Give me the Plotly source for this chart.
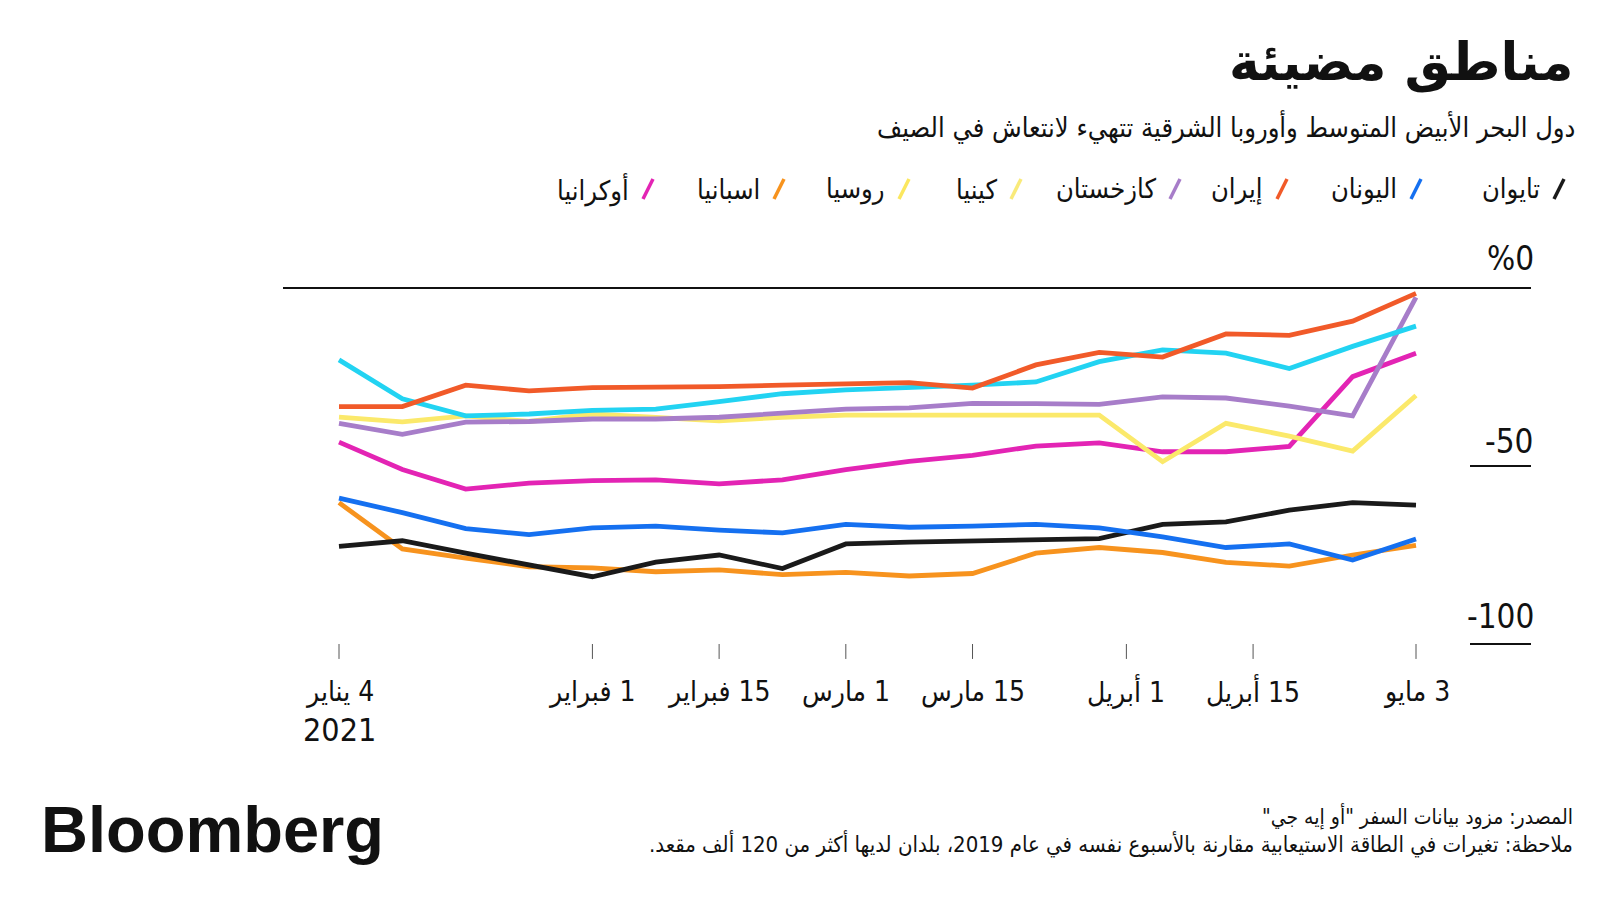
import plotly.graph_objects as go
import pandas as pd

# ---------------- data ----------------
dates = ["2021-01-04", "2021-01-11", "2021-01-18", "2021-01-25", "2021-02-01", "2021-02-08",
         "2021-02-15", "2021-02-22", "2021-03-01", "2021-03-08", "2021-03-15", "2021-03-22",
         "2021-03-29", "2021-04-05", "2021-04-12", "2021-04-19", "2021-04-26", "2021-05-03"]

taiwan = [-72.6, -71.0, -74.5, -77.8, -81.1, -77.0, -75.0, -78.8, -71.9, -71.4, -71.0, -70.7,
          -70.4, -66.4, -65.7, -62.4, -60.3, -61.0]
greece = [-59.0, -63.1, -67.6, -69.3, -67.4, -66.9, -68.0, -68.8, -66.4, -67.2, -66.9, -66.4,
          -67.4, -69.9, -72.9, -71.9, -76.4, -70.5]
iran = [-33.3, -33.3, -27.3, -28.9, -28.0, -28.0, -27.7, -27.3, -27.0, -26.6, -28.1, -21.6,
        -18.1, -19.4, -12.9, -13.3, -9.3, -1.5]
kazakhstan = [-38.0, -41.1, -37.7, -37.5, -36.8, -36.8, -36.3, -35.1, -34.0, -33.7, -32.4, -32.5,
              -32.7, -30.6, -30.9, -33.2, -35.9, -2.6]
kenya = [-20.2, -31.1, -35.9, -35.4, -34.4, -34.0, -31.9, -29.7, -28.6, -28.0, -27.3, -26.4,
         -20.7, -17.4, -18.3, -22.6, -16.4, -10.7]
russia = [-36.3, -37.6, -35.9, -37.5, -35.4, -36.3, -37.3, -36.3, -35.7, -35.7, -35.6, -35.7,
          -35.7, -48.8, -38.0, -41.6, -45.8, -30.2]
spain = [-60.3, -73.3, -75.9, -78.3, -78.6, -79.7, -79.2, -80.5, -79.9, -80.9, -80.2, -74.5,
         -72.9, -74.3, -77.1, -78.1, -75.0, -72.3]
ukraine = [-43.3, -51.0, -56.5, -54.8, -54.1, -53.9, -55.0, -53.9, -51.0, -48.7, -47.0, -44.4,
           -43.5, -46.0, -46.0, -44.5, -24.9, -18.3]

series_names = ["تايوان", "اليونان", "إيران", "كازخستان", "كينيا", "روسيا", "اسبانيا", "أوكرانيا"]
legend_colors = ["#1a1a1a", "#1570f0", "#f15a29", "#a77dc9", "#f9ea7a", "#fbe75f", "#f7931e", "#e324b4"]

tick_dates = ["2021-01-04", "2021-02-01", "2021-02-15", "2021-03-01", "2021-03-15",
              "2021-04-01", "2021-04-15", "2021-05-03"]
tick_labels = ["4 يناير", "1 فبراير", "15 فبراير", "1 مارس", "15 مارس", "1 أبريل", "15 أبريل", "3 مايو"]
y_tick_vals = [0, -50, -100]
y_tick_labels = ["%0", "-50", "-100"]

title = "مناطق مضيئة"
subtitle = "دول البحر الأبيض المتوسط وأوروبا الشرقية تتهيء لانتعاش في الصيف"
source1 = "المصدر: مزود بيانات السفر \"أو إيه جي\""
source2 = "ملاحظة: تغيرات في الطاقة الاستيعابية مقارنة بالأسبوع نفسه في عام 2019، بلدان لديها أكثر من 120 ألف مقعد."

# ---------------- layout geometry ----------------
OFF = 8  # page body margin
W, H = 1592, 892


def rp(v):
    """reference pixel -> figure pixel"""
    return v - OFF


L, R, T, B = rp(283), rp(1531), rp(250), rp(660)
PPU = 3.56            # pixels per unit
Y0 = rp(288)          # pixel of value 0
ytop = (Y0 - T) / PPU
ybot = -(B - Y0) / PPU
X_JAN4, X_MAY3 = rp(339), rp(1416)
px_per_day = (X_MAY3 - X_JAN4) / 119.0
x0 = pd.Timestamp("2021-01-04") - pd.Timedelta(days=(X_JAN4 - L) / px_per_day)
x1 = pd.Timestamp("2021-05-03") + pd.Timedelta(days=(R - X_MAY3) / px_per_day)


def px(x):
    return (rp(x) - L) / (R - L)


def py(y):
    return (B - rp(y)) / (B - T)


def rtl(s):
    return "\u202B" + s + "\u202C"


AR = "DejaVu Sans Condensed, DejaVu Sans, sans-serif"
NUM = "Liberation Sans Narrow, DejaVu Sans Condensed, Liberation Sans, sans-serif"

fig = go.Figure()

line_data = [
    (spain, "#f7931e", "اسبانيا"),
    (taiwan, "#1a1a1a", "تايوان"),
    (greece, "#1570f0", "اليونان"),
    (ukraine, "#e324b4", "أوكرانيا"),
    (russia, "#fbe96b", "روسيا"),
    (kazakhstan, "#a77dc9", "كازخستان"),
    (kenya, "#22d3f2", "كينيا"),
    (iran, "#f15a29", "إيران"),
]
for vals, col, nm in line_data:
    fig.add_trace(go.Scatter(x=dates, y=vals, mode="lines", name=nm,
                             line=dict(color=col, width=4.8), showlegend=False,
                             hoverinfo="skip"))

shapes = []
# zero line
shapes.append(dict(type="line", xref="paper", yref="y", x0=0, x1=1, y0=0, y1=0,
                   line=dict(color="#111111", width=2)))
# gridline stubs
for v in y_tick_vals[1:]:
    shapes.append(dict(type="line", xref="paper", yref="y", x0=px(1470), x1=1, y0=v, y1=v,
                       line=dict(color="#111111", width=2)))
# x tick marks
for d in tick_dates:
    shapes.append(dict(type="line", xref="x", yref="y", x0=d, x1=d, y0=-100, y1=-104.2,
                       line=dict(color="#555555", width=1)))

annotations = []
# y tick labels
y_lab_pos = [8.4, -43.0, -92.2]
for v, t in zip(y_lab_pos, y_tick_labels):
    annotations.append(dict(xref="paper", yref="y", x=1, y=v, text=t, showarrow=False,
                            xanchor="right", yanchor="middle", xshift=5,
                            font=dict(family=NUM, size=33, color="#111111")))
# x tick labels
for d, t in zip(tick_dates, tick_labels):
    annotations.append(dict(xref="x", yref="paper", x=d, y=py(691), text=rtl(t), showarrow=False,
                            xanchor="center", yanchor="middle",
                            font=dict(family=NUM, size=28, color="#111111")))
annotations.append(dict(xref="x", yref="paper", x=tick_dates[0], y=py(730), text="2021",
                        showarrow=False, xanchor="center", yanchor="middle",
                        font=dict(family=NUM, size=32, color="#111111")))

# title / subtitle
annotations.append(dict(xref="paper", yref="paper", x=px(1575), y=py(62), text="<b>" + rtl(title) + "</b>",
                        showarrow=False, xanchor="right", yanchor="middle",
                        font=dict(family="DejaVu Sans, sans-serif", size=52, color="#111111")))
annotations.append(dict(xref="paper", yref="paper", x=px(1577), y=py(127), text=rtl(subtitle),
                        showarrow=False, xanchor="right", yanchor="middle",
                        font=dict(family=AR, size=27, color="#111111")))

# custom legend
leg_text_right = [1542, 1399, 1265, 1158, 999, 887, 762, 631]
leg_y = 189
for name, col, xr in zip(series_names, legend_colors, leg_text_right):
    annotations.append(dict(xref="paper", yref="paper", x=px(xr), y=py(leg_y), text=rtl(name),
                            showarrow=False, xanchor="right", yanchor="middle",
                            font=dict(family=AR, size=27, color="#111111")))
    cx = xr + 17
    shapes.append(dict(type="line", xref="paper", yref="paper",
                       x0=px(cx - 5), x1=px(cx + 5), y0=py(leg_y + 10), y1=py(leg_y - 10),
                       line=dict(color=col, width=3.5)))

# footer
annotations.append(dict(xref="paper", yref="paper", x=px(39), y=py(829), text="<b>Bloomberg</b>",
                        showarrow=False, xanchor="left", yanchor="middle",
                        font=dict(family="Liberation Sans, Arial, sans-serif", size=65, color="#111111")))
annotations.append(dict(xref="paper", yref="paper", x=px(1575), y=py(816), text=rtl(source1),
                        showarrow=False, xanchor="right", yanchor="middle",
                        font=dict(family=AR, size=21, color="#111111")))
annotations.append(dict(xref="paper", yref="paper", x=px(1575), y=py(844), text=rtl(source2),
                        showarrow=False, xanchor="right", yanchor="middle",
                        font=dict(family=AR, size=22, color="#111111")))

fig.update_layout(
    width=W, height=H,
    margin=dict(l=L, r=W - R, t=T, b=H - B, pad=0),
    paper_bgcolor="white", plot_bgcolor="white",
    shapes=shapes, annotations=annotations,
    showlegend=False,
    xaxis=dict(range=[x0, x1], showgrid=False, zeroline=False, showticklabels=False,
               ticks="", showline=False, type="date"),
    yaxis=dict(range=[ybot, ytop], showgrid=False, zeroline=False, showticklabels=False,
               ticks="", showline=False),
)

fig.write_html("out.html")
